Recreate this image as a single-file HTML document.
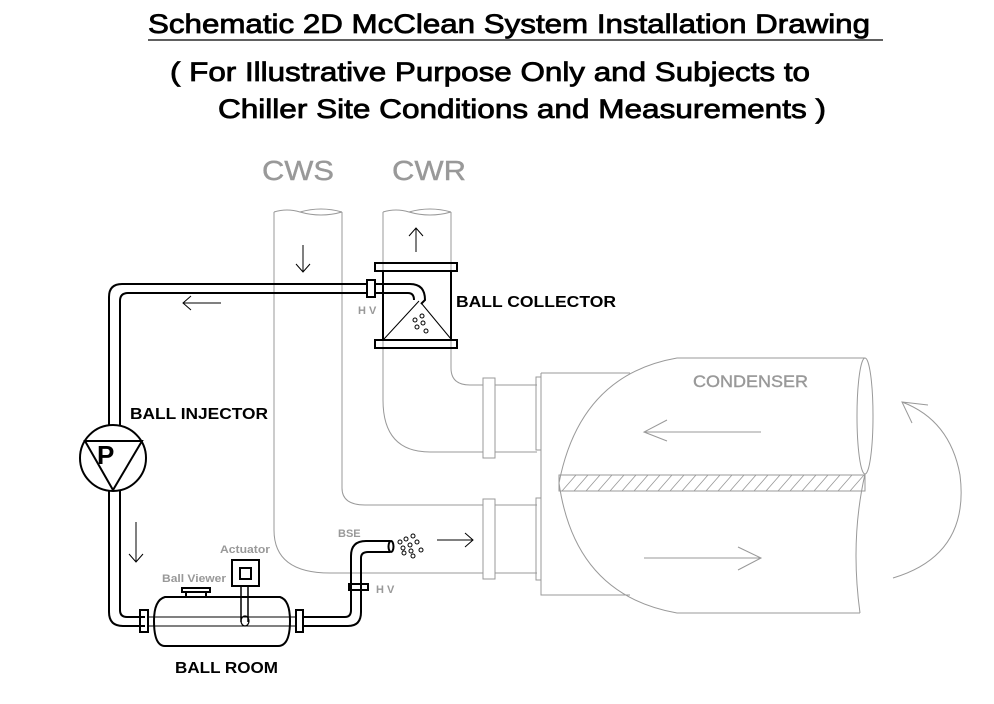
<!DOCTYPE html>
<html><head><meta charset="utf-8"><style>
html,body{margin:0;padding:0;background:#fff;}
svg{display:block;font-family:"Liberation Sans",Arial,sans-serif;}
</style></head><body>
<svg width="994" height="704" viewBox="0 0 994 704" xmlns="http://www.w3.org/2000/svg">
<!-- Titles -->
<text x="148" y="33" font-size="27" textLength="722" lengthAdjust="spacingAndGlyphs" fill="#000" stroke="#000" stroke-width="0.8">Schematic 2D McClean System Installation Drawing</text>
<line x1="148" y1="40" x2="883" y2="40" stroke="#000" stroke-width="1.2"/>
<text x="170" y="81" font-size="27" textLength="640" lengthAdjust="spacingAndGlyphs" fill="#000" stroke="#000" stroke-width="0.8">( For Illustrative Purpose Only and Subjects to</text>
<text x="218" y="118" font-size="27" textLength="608" lengthAdjust="spacingAndGlyphs" fill="#000" stroke="#000" stroke-width="0.8">Chiller Site Conditions and Measurements )</text>
<text x="262" y="180" font-size="28" textLength="72" lengthAdjust="spacingAndGlyphs" fill="#999" stroke="#999" stroke-width="0.4">CWS</text>
<text x="392" y="180" font-size="28" textLength="74" lengthAdjust="spacingAndGlyphs" fill="#999" stroke="#999" stroke-width="0.4">CWR</text>

<g fill="none" stroke="#999" stroke-width="1">
<path d="M274 212 L274 530 Q274 573 330 573 L483 573"/>
<path d="M342 212 L342 488 Q342 505 365 505 L483 505"/>
<path d="M274 212 Q287 208 300 212 Q321 206 342 212 M300 212 Q321 218 342 212"/>
<path d="M383 212 L383 348 M383 348 L383 400 Q383 452 430 452 L483 452"/>
<path d="M451 212 L451 348 M451 348 L451 368 Q451 385 470 385 L483 385"/>
<path d="M383 212 Q396 208 409 212 Q430 206 451 212 M409 212 Q430 218 451 212"/>
<rect x="483" y="378" width="12" height="80"/>
<rect x="483" y="499" width="12" height="80"/>
<line x1="495" y1="385" x2="537" y2="385"/><line x1="495" y1="452" x2="537" y2="452"/>
<line x1="495" y1="505" x2="537" y2="505"/><line x1="495" y1="573" x2="537" y2="573"/>
<rect x="536" y="377" width="5" height="73"/>
<rect x="536" y="498" width="5" height="82"/>
<path d="M541 373 L630 373 M541 373 L541 595 L630 595"/>
<path d="M865 358 L677 358 Q580 375 559 483 Q575 595 677 613 L860 613"/>
<ellipse cx="865" cy="416" rx="8" ry="58"/>
<path d="M865 474 Q850 540 860 613"/>
<rect x="559" y="475" width="306" height="16"/>
<path d="M761 432 L644 432 M667 420 L644 432 L667 441"/>
<path d="M644 558 L761 558 M738 547 L761 558 L738 570"/>
<path d="M893 578 Q970 555 960 475 Q950 420 902 402 M928 405 L902 402 L912 423"/>
</g>
<g stroke="#999" stroke-width="0.8">
<line x1="562" y1="491" x2="576" y2="475"/><line x1="574" y1="491" x2="588" y2="475"/><line x1="586" y1="491" x2="600" y2="475"/><line x1="598" y1="491" x2="612" y2="475"/><line x1="610" y1="491" x2="624" y2="475"/><line x1="622" y1="491" x2="636" y2="475"/><line x1="634" y1="491" x2="648" y2="475"/><line x1="646" y1="491" x2="660" y2="475"/><line x1="658" y1="491" x2="672" y2="475"/><line x1="670" y1="491" x2="684" y2="475"/><line x1="682" y1="491" x2="696" y2="475"/><line x1="694" y1="491" x2="708" y2="475"/><line x1="706" y1="491" x2="720" y2="475"/><line x1="718" y1="491" x2="732" y2="475"/><line x1="730" y1="491" x2="744" y2="475"/><line x1="742" y1="491" x2="756" y2="475"/><line x1="754" y1="491" x2="768" y2="475"/><line x1="766" y1="491" x2="780" y2="475"/><line x1="778" y1="491" x2="792" y2="475"/><line x1="790" y1="491" x2="804" y2="475"/><line x1="802" y1="491" x2="816" y2="475"/><line x1="814" y1="491" x2="828" y2="475"/><line x1="826" y1="491" x2="840" y2="475"/><line x1="838" y1="491" x2="852" y2="475"/><line x1="850" y1="491" x2="864" y2="475"/>
</g>
<text x="693" y="387" font-size="17" fill="#999" stroke="#999" stroke-width="0.4" textLength="115" lengthAdjust="spacingAndGlyphs">CONDENSER</text>

<g fill="none" stroke="#000" stroke-width="1">
<path d="M303 245 L303 272 M296 264 L303 272 L310 264"/>
<path d="M416 252 L416 228 M409 236 L416 228 L423 236"/>
<path d="M221 303 L183 303 M191 296 L183 303 L191 310"/>
<path d="M136 522 L136 562 M129 554 L136 562 L143 554"/>
<path d="M437 540 L473 540 M465 533 L473 540 L465 547"/>
</g>

<g fill="none" stroke="#000" stroke-width="2">
<path d="M367 284 L122 284 Q109 284 109 297 L109 425"/>
<path d="M367 293 L128 293 Q120 293 120 301 L120 425"/>
<path d="M375 284 L410 284 Q425 284 425 300 L421 304"/>
<path d="M375 293 L408 293 Q414 293 414 300"/>
<rect x="367" y="280" width="8" height="17"/>
<rect x="375" y="263" width="82" height="8"/>
<rect x="375" y="340" width="82" height="8"/>
<line x1="383" y1="271" x2="383" y2="340"/><line x1="451" y1="271" x2="451" y2="340"/>
<circle cx="113" cy="458" r="33"/>
<path d="M85 441 L142 441 L113 490 Z"/>
<path d="M109 491 L109 612 Q109 626 123 626 L145 626"/>
<path d="M120 491 L120 610 Q120 617 127 617 L145 617"/>
<rect x="140" y="610" width="8" height="22"/>
<path d="M165 597 L280 597 Q290 600 290 621 Q290 646 278 646 L165 646 Q154 646 154 621 Q154 600 165 597 Z"/>
<line x1="148" y1="617" x2="296" y2="617" stroke-width="1"/>
<line x1="148" y1="626" x2="296" y2="626" stroke-width="1"/>
<path d="M186 597 L186 592 M206 597 L206 592"/>
<rect x="182" y="588" width="28" height="4"/>
<rect x="232" y="560" width="27" height="26"/>
<rect x="240" y="568" width="11" height="11"/>
<path d="M241 586 L241 622 M248 586 L248 622" stroke-width="1.5"/>
<ellipse cx="245" cy="621" rx="4" ry="5" stroke-width="1.2"/>
<rect x="296" y="610" width="7" height="22"/>
<path d="M303 617 L345 617 Q351 617 351 610 L351 556 Q351 541 366 541 L390 541"/>
<path d="M303 626 L348 626 Q361 626 361 612 L361 558 Q361 552 368 552 L390 552"/>
<ellipse cx="391" cy="546.5" rx="2.5" ry="5.5"/>
<rect x="349" y="584" width="19" height="6"/>
</g>
<g fill="none" stroke="#000" stroke-width="1">
<path d="M419 301 L384 339 M422 304 L451 339"/>
<circle cx="415" cy="320" r="2"/><circle cx="422" cy="316" r="2"/><circle cx="417" cy="327" r="2"/><circle cx="423" cy="323" r="2"/><circle cx="426" cy="331" r="2"/>
<circle cx="400" cy="542" r="2"/><circle cx="406" cy="539" r="2"/><circle cx="413" cy="536" r="2"/><circle cx="403" cy="548" r="2"/><circle cx="410" cy="545" r="2"/><circle cx="417" cy="542" r="2"/><circle cx="404" cy="553" r="2"/><circle cx="411" cy="551" r="2"/><circle cx="421" cy="550" r="2"/><circle cx="413" cy="556" r="2"/>
</g>
<text x="97" y="464" font-size="26" font-weight="bold" fill="#000">P</text>

<g font-weight="bold">
<text x="456" y="307" font-size="16" fill="#000" textLength="160" lengthAdjust="spacingAndGlyphs">BALL COLLECTOR</text>
<text x="130" y="419" font-size="16" fill="#000" textLength="138" lengthAdjust="spacingAndGlyphs">BALL INJECTOR</text>
<text x="175" y="673" font-size="16" fill="#000" textLength="103" lengthAdjust="spacingAndGlyphs">BALL ROOM</text>
<text x="358" y="314" font-size="11" fill="#999">H V</text>
<text x="376" y="593" font-size="11" fill="#999">H V</text>
<text x="338" y="537" font-size="11" fill="#999">BSE</text>
<text x="220" y="553" font-size="11" fill="#999" textLength="50" lengthAdjust="spacingAndGlyphs">Actuator</text>
<text x="162" y="582" font-size="11" fill="#999" textLength="64" lengthAdjust="spacingAndGlyphs">Ball Viewer</text>
</g>
</svg>
</body></html>
